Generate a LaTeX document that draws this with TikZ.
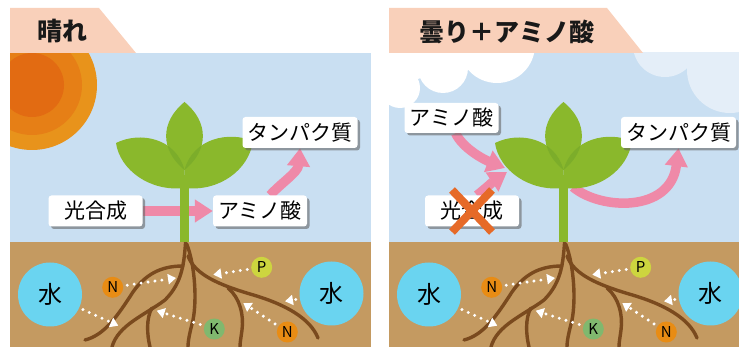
\documentclass[tikz,border=0pt]{standalone}
\usepackage{fontspec}
\newfontfamily\jp{Noto Sans CJK JP}
\usetikzlibrary{arrows.meta,shadows}

\definecolor{sky}{HTML}{C9DFF2}
\definecolor{soil}{HTML}{C49A61}
\definecolor{tabpeach}{HTML}{F9D0BA}
\definecolor{leaf}{HTML}{8AB82C}
\definecolor{leafdark}{HTML}{7CAD2A}
\definecolor{rootbrown}{HTML}{7A4A1E}
\definecolor{waterblue}{HTML}{6AD4F0}
\definecolor{flowpink}{HTML}{EF89A8}
\definecolor{nitro}{HTML}{E88C14}
\definecolor{phos}{HTML}{CDD53F}
\definecolor{kali}{HTML}{80B86E}
\definecolor{crossorange}{HTML}{E66A28}
\definecolor{cloudpale}{HTML}{E4EEF8}
\definecolor{sunouter}{HTML}{E8931B}
\definecolor{sunmid}{HTML}{E67F16}
\definecolor{suninner}{HTML}{E26B12}

\pgfdeclarelayer{ground}
\pgfdeclarelayer{flows}
\pgfdeclarelayer{plant}
\pgfsetlayers{ground,flows,plant,main}

\begin{document}
\begin{tikzpicture}[x=1pt, y=-1pt,
    tag/.style={fill=white, rounded corners=3pt, font=\jp\fontsize{21}{21}\selectfont,
                minimum width=94pt, minimum height=31pt, inner xsep=5pt,
                drop shadow={shadow xshift=2.5pt, shadow yshift=-2.5pt, fill=black!60, opacity=0.6}},
    heading/.style={anchor=west, text=black!90, font=\jp\bfseries\fontsize{25}{25}\selectfont},
    nutrient/.style={circle, minimum size=21pt, inner sep=0pt, font=\jp\fontsize{15}{15}\selectfont},
    pool/.style={circle, fill=waterblue, minimum size=64pt, inner sep=0pt, font=\jp\fontsize{24}{24}\selectfont},
    root/.style={draw=rootbrown, line width=3.4pt, line cap=round},
    flow/.style={draw=flowpink, line width=9.5pt, -{Triangle[length=18pt,width=22pt]}},
    uptake/.style={white, line width=3.3pt, line cap=round, dash pattern=on 0pt off 7pt,
                   -{Triangle[length=8pt,width=10pt]}, shorten <=4pt}
]
\useasboundingbox (0,0) rectangle (739,347);

% Both panels share sky, soil, roots, nutrients and the sprout
\foreach \dx/\p in {0/L,379/R}{
  \begin{scope}[xshift=\dx pt, name prefix=\p-]
    \begin{pgfonlayer}{ground}
      \fill[sky] (10,53) rectangle (371,242);
      \fill[soil] (10,242) rectangle (371,347);
      % roots
      \draw[root] (185.7,241) .. controls (184,262) and (183,282) .. (165,300)
                  .. controls (145,315) and (118,325) .. (112,347);
      \draw[root] (183,266) .. controls (160,266) and (145,275) .. (133,292)
                  .. controls (118,315) and (105,335) .. (85,340);
      \draw[root] (186.7,244) .. controls (195,265) and (197,300) .. (193,320)
                  .. controls (190,332) and (188,340) .. (188,347);
      \draw[root] (188,256) .. controls (195,275) and (220,285) .. (250,294)
                  .. controls (285,304) and (310,318) .. (318,338);
      \draw[root] (228,288) .. controls (240,298) and (244,315) .. (242,330)
                  .. controls (241,338) and (240,342) .. (240,347);
      \draw[root] (152,308) .. controls (146,318) and (147,335) .. (150,347);
    \end{pgfonlayer}

    % water and nutrients in the soil
    \node[pool] (wl) at (50,294.5) {水};
    \node[pool] (wr) at (331.5,293.5) {水};
    \node[nutrient, fill=nitro] (n1) at (112.7,287.3) {N};
    \node[nutrient, fill=phos] (pp) at (261.7,267.3) {P};
    \node[nutrient, fill=kali] (kk) at (214.3,329) {K};
    \node[nutrient, fill=nitro] (n2) at (287.3,332) {N};

    \coordinate (t1) at (176,278);
    \coordinate (t2) at (213.3,274.7);
    \coordinate (t3) at (285,301.3);
    \coordinate (t4) at (156.7,310.7);
    \coordinate (t5) at (243.3,303);
    \coordinate (t6) at (118.3,325.7);
    \draw[uptake] (n1) -- (t1);
    \draw[uptake] (pp) -- (t2);
    \draw[uptake] (wr) -- (t3);
    \draw[uptake] (kk) -- (t4);
    \draw[uptake] (n2) -- (t5);
    \draw[uptake] (wl) -- (t6);

    % sprout: stem, side leaves, top leaf
    \begin{pgfonlayer}{plant}
      \fill[leaf] (180,175) rectangle (189,242);
      \fill[leaf] (116,143) .. controls (140,131) and (176,138) .. (184.5,170) -- (184.5,188)
                  .. controls (150,192) and (120,170) .. cycle;
      \fill[leaf] (253,141) .. controls (229,131) and (193,138) .. (184.5,170) -- (184.5,188)
                  .. controls (219,192) and (249,170) .. cycle;
      \fill[leaf] (184.5,102) .. controls (209,122) and (209,150) .. (184.5,170)
                  .. controls (160,150) and (160,122) .. cycle;
      \begin{scope}
        \clip (184.5,102) .. controls (209,122) and (209,150) .. (184.5,170)
              .. controls (160,150) and (160,122) .. cycle;
        \fill[leafdark] (116,143) .. controls (140,131) and (176,138) .. (184.5,170) -- (184.5,188)
                        .. controls (150,192) and (120,170) .. cycle;
        \fill[leafdark] (253,141) .. controls (229,131) and (193,138) .. (184.5,170) -- (184.5,188)
                        .. controls (219,192) and (249,170) .. cycle;
      \end{scope}
      \coordinate (leafin1) at (126,168);
      \coordinate (leafin2) at (128,172);
      \coordinate (stemout) at (194,187);
    \end{pgfonlayer}
  \end{scope}
}

% Sun on the left, clouds on the right
\begin{pgfonlayer}{ground}
  \begin{scope}
    \clip (10,53) rectangle (371,242);
    \fill[sunouter] (32,85) circle (65pt);
    \fill[sunmid] (32,85) circle (50pt);
    \fill[suninner] (32,85) circle (32pt);
  \end{scope}
  \begin{scope}
    \clip (389,53) rectangle (739,242);
    \fill[white] (400,88) circle (20pt) (443,68) circle (25pt) (497,45) circle (38pt) (410,50) circle (30pt);
    \fill[cloudpale] (665,45) circle (32pt) (730,70) circle (43pt);
  \end{scope}
\end{pgfonlayer}

% Heading tabs
\fill[tabpeach] (10,8) -- (99,8) -- (136,53) -- (10,53) -- cycle;
\fill[tabpeach] (389,8) -- (607,8) -- (643,53) -- (389,53) -- cycle;
\node[heading] (sunny) at (34,31) {晴れ};
\node[heading] (cloudy) at (416,32) {曇り＋アミノ酸};

% Labels
\node[tag] (L-photo) at (95.5,211) {光合成};
\node[tag] (L-amino) at (260,211) {アミノ酸};
\node[tag] (L-protein) at (300,132.5) {タンパク質};
\node[tag, minimum height=30pt] (R-amino) at (451.5,118) {アミノ酸};
\node[tag] (R-photo) at (472,211) {光合成};
\node[tag] (R-protein) at (678.5,132.5) {タンパク質};

% Pink flows
\begin{pgfonlayer}{flows}
  \draw[flow] (L-photo) -- (L-amino);
  \draw[flow] ([xshift=10pt]L-amino.north) .. controls +(12,-13) and +(-2,24) .. (L-protein.south);
  \draw[flow] ([xshift=4pt]R-amino.south) .. controls +(8,16) and +(-20,-8) .. (R-leafin1);
  \draw[flow] ([xshift=5pt]R-photo.north) .. controls +(10,-8) and +(-12,8) .. (R-leafin2);
  \draw[flow] (R-stemout) .. controls +(27,23) and +(-8,65) .. (R-protein.south);
\end{pgfonlayer}

% No photosynthesis under clouds
\draw[crossorange, line width=8pt] ([shift={(-20,-21)}]R-photo.center) -- ([shift={(20,21)}]R-photo.center);
\draw[crossorange, line width=8pt] ([shift={(20,-21)}]R-photo.center) -- ([shift={(-20,21)}]R-photo.center);

\end{tikzpicture}
\end{document}
